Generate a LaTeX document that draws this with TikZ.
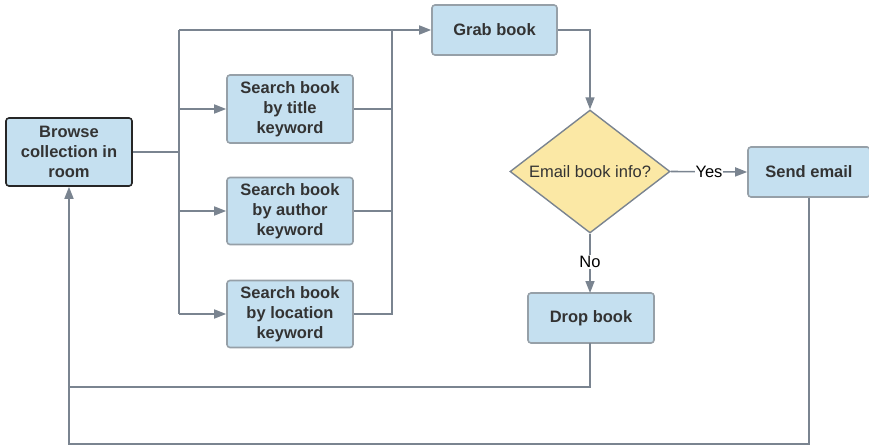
\documentclass[tikz,border=0pt]{standalone}
\usepackage{fontspec}
\setmainfont{Liberation Sans}
\usetikzlibrary{arrows.meta,shapes.geometric}
\definecolor{boxfill}{RGB}{197,224,240}
\definecolor{boxline}{RGB}{150,160,168}
\definecolor{dfill}{RGB}{251,232,165}
\definecolor{wire}{RGB}{122,132,144}
\definecolor{txt}{RGB}{51,51,51}
\begin{document}
\begin{tikzpicture}[x=1pt,y=-1pt,
  box/.style={draw=boxline,fill=boxfill,line width=1.6pt,rounded corners=3pt,
    font=\fontsize{16.5}{20}\selectfont\bfseries,text=txt,align=center,inner sep=0pt},
  dbox/.style={draw=wire,fill=dfill,line width=1.4pt,diamond,inner sep=0pt,
    font=\fontsize{16.5}{20}\selectfont,text=txt},
  wirestyle/.style={draw=wire,line width=1.6pt},
  arr/.style={wirestyle,-{Triangle[length=12pt,width=9pt]}},
  lbl/.style={fill=white,inner sep=1pt,font=\fontsize{16.5}{20}\selectfont,text=black}]
\useasboundingbox (0,0) rectangle (869,447);
\node[box,draw=black!85,minimum width=126pt,minimum height=68pt] (browse) at (69,152) {Browse\\collection in\\room};
\node[box,minimum width=126pt,minimum height=68pt] (s1) at (290,109) {Search book\\by title\\keyword};
\node[box,minimum width=126pt,minimum height=67pt] (s2) at (290,211) {Search book\\by author\\keyword};
\node[box,minimum width=126pt,minimum height=67pt] (s3) at (290,314) {Search book\\by location\\keyword};
\node[box,minimum width=125pt,minimum height=50pt] (grab) at (494.5,30) {Grab book};
\node[dbox,minimum width=160pt,minimum height=123pt] (dec) at (590,171.5) {};
\node[font=\fontsize{16.5}{20}\selectfont,text=txt] at (dec.center) {Email book info?};
\node[box,minimum width=122pt,minimum height=50pt] (send) at (809,172) {Send email};
\node[box,minimum width=126pt,minimum height=50pt] (drop) at (591,318) {Drop book};
\coordinate (j1) at (179,152);
\coordinate (j2) at (392,30);
\coordinate (bl) at (69,387);
\coordinate (bl2) at (69,444);
% from browse
\draw[wirestyle] (browse.east) -- (j1);
\draw[wirestyle] (179,30) -- (179,314);
\draw[arr] (179,30) -- (grab.west);
\draw[arr] (179,109) -- (s1.west);
\draw[arr] (179,211) -- (s2.west);
\draw[arr] (179,314) -- (s3.west);
\draw[wirestyle] (s1.east) -- (392,109);
\draw[wirestyle] (s2.east) -- (392,211);
\draw[wirestyle] (s3.east) -- (392,314) -- (j2);
% grab to decision
\draw[arr] (grab.east) -- (590,30) -- (dec.north);
% yes
\draw[arr] (dec.east) -- node[lbl,pos=0.5] (yes) {Yes} (send.west);
% no
\draw[arr] (dec.south) -- node[lbl,pos=0.48] (no) {No} (590,293);
% drop back
\draw[arr] (590,343) -- (590,387) -- (bl) -- (browse.south);
% send back
\draw[wirestyle] (send.south) -- (809,444) -- (bl2) -- (bl);
\end{tikzpicture}
\end{document}
